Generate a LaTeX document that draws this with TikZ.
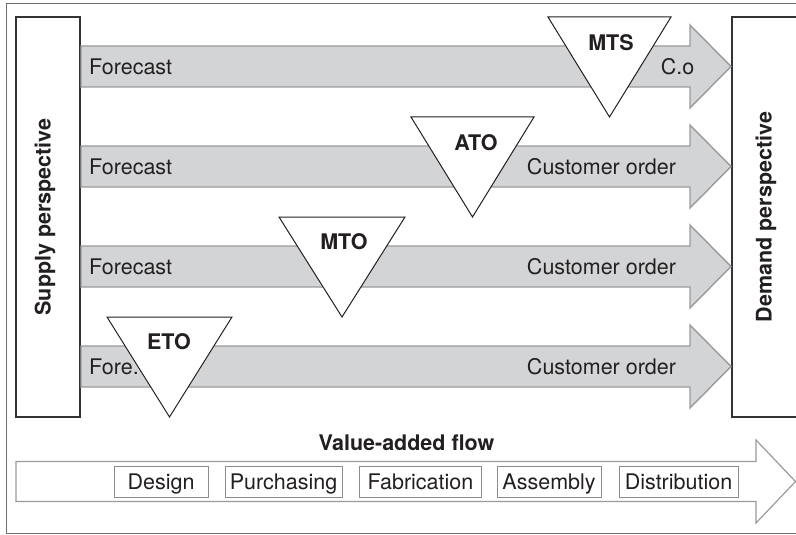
\documentclass[tikz,border=0pt]{standalone}
\usepackage{fontspec}
\setmainfont{TeX Gyre Heros}
\definecolor{textc}{HTML}{231F20}
\definecolor{arrowfill}{HTML}{D3D4D6}
\definecolor{arrowline}{HTML}{9A9B9D}
\definecolor{boxline}{HTML}{333333}
\definecolor{frameline}{HTML}{6E6E6E}
\definecolor{stepline}{HTML}{8C8C8C}
\begin{document}
\begin{tikzpicture}[x=1pt,y=-1pt,
  font=\fontsize{21.5}{25}\selectfont,
  txt/.style={text=textc, inner sep=0pt},
  bold/.style={txt, font=\fontsize{21.5}{25}\selectfont\bfseries},
  grayarrow/.style={fill=arrowfill, draw=arrowline, line width=1.4pt, line join=miter},
  whitearrow/.style={fill=white, draw=arrowline, line width=1.2pt, line join=miter},
  persp/.style={draw=boxline, line width=1.1pt, fill=white},
  tri/.style={draw=textc, line width=1pt, fill=white, line join=miter},
  stepbox/.style={draw=stepline, line width=1pt, fill=white, text=textc, inner sep=0pt,
     minimum height=31pt, text height=17pt, text depth=2pt}
]
\useasboundingbox (0,0) rectangle (796,535);
\fill[white] (0,0) rectangle (796,535);
\draw[frameline, line width=1pt] (796,4) -- (6,4) -- (6,533) -- (796,533);

% perspective boxes
\draw[persp] (16,17) rectangle (80,417);
\node[bold, rotate=90] (supply) at (45,217) {Supply perspective};
\draw[persp] (796,17) -- (732,17) -- (732,417) -- (796,417);
\node[bold, rotate=90] (demand) at (766,217) {Demand perspective};

% grey flow arrows
\foreach \y in {66.5,166.5,266.5,366.5}
  \filldraw[grayarrow] (81,\y-20.5) -- (690,\y-20.5) -- (690,\y-41.5) -- (731,\y)
     -- (690,\y+41.5) -- (690,\y+20.5) -- (81,\y+20.5) -- cycle;

\node[txt, anchor=west] (f1) at (89,66.5) {Forecast};
\node[txt, anchor=west] (f2) at (89,166.5) {Forecast};
\node[txt, anchor=west] (f3) at (89,266.5) {Forecast};
\node[txt, anchor=west] (f4) at (89,366.5) {Fore.};
\node[txt] (c1) at (677.5,66.5) {C.o};
\node[txt] (c2) at (601.5,166.5) {Customer order};
\node[txt] (c3) at (601.5,266.5) {Customer order};
\node[txt] (c4) at (601.5,366.5) {Customer order};

% decoupling triangles
\draw[tri] (548,17) -- (671,17) -- (609.5,117) -- cycle;
\node[bold] (mts) at (611,43) {MTS};
\draw[tri] (411,117) -- (534,117) -- (472.5,217) -- cycle;
\node[bold] (ato) at (476,143) {ATO};
\draw[tri] (279,217) -- (405,217) -- (342,317) -- cycle;
\node[bold] (mto) at (344,242) {MTO};
\draw[tri] (107,317) -- (232,317) -- (169.5,417) -- cycle;
\node[bold] (eto) at (169,342) {ETO};

% value-added flow
\node[bold] (vaf) at (406.5,443) {Value-added flow};
\filldraw[whitearrow] (16,461.5) -- (756,461.5) -- (756,440) -- (795.5,481.5)
   -- (756,523) -- (756,501.5) -- (16,501.5) -- cycle;
\node[stepbox, minimum width=94pt] (design) at (161,481.5) {Design};
\node[stepbox, minimum width=117pt] (purch) at (283.5,481.5) {Purchasing};
\node[stepbox, minimum width=122pt] (fab) at (420.5,481.5) {Fabrication};
\node[stepbox, minimum width=104pt] (asm) at (549,481.5) {Assembly};
\node[stepbox, minimum width=119pt] (dist) at (678.5,481.5) {Distribution};
\end{tikzpicture}
\end{document}
